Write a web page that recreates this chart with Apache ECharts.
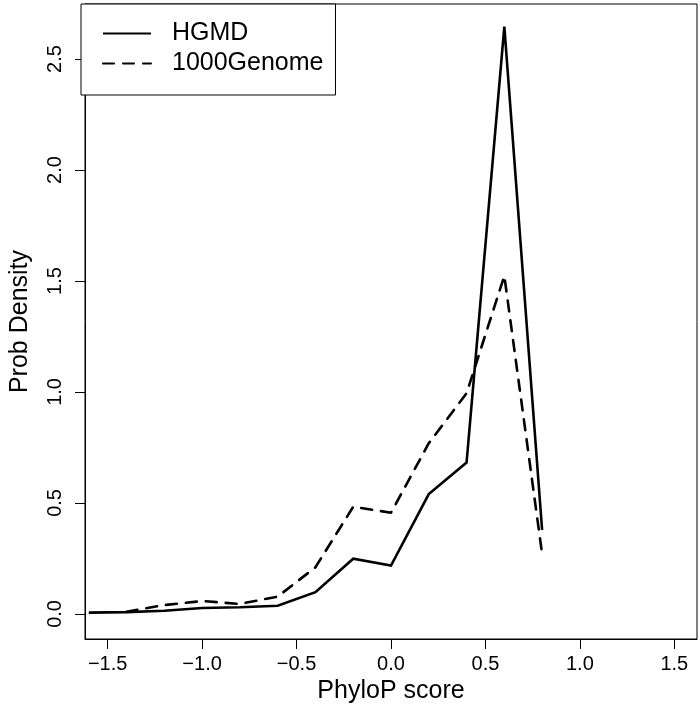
<!DOCTYPE html>
<html>
<head>
<meta charset="utf-8">
<script src="https://cdn.jsdelivr.net/npm/echarts@6/dist/echarts.min.js"></script>
<style>
html,body{margin:0;padding:0;background:#fff;}
#chart{width:700px;height:713px;}
</style>
</head>
<body>
<div id="chart"></div>
<script>
// Data
var scoreHGMD = [-1.6, -1.4, -1.2, -1.0, -0.8, -0.6, -0.4, -0.2, 0.0, 0.2, 0.4, 0.6, 0.8];
var densityHGMD = [0.006, 0.008, 0.014, 0.027, 0.03, 0.037, 0.098, 0.249, 0.218, 0.54, 0.682, 2.646, 0.378];
var scoreGenome = [-1.4, -1.2, -1.0, -0.8, -0.6, -0.4, -0.2, 0.0, 0.2, 0.4, 0.6, 0.8];
var densityGenome = [0.01, 0.04, 0.058, 0.045, 0.078, 0.21, 0.483, 0.456, 0.769, 0.994, 1.523, 0.27];
var xTicks = [-1.5, -1.0, -0.5, 0.0, 0.5, 1.0, 1.5];
var yTicks = [0.0, 0.5, 1.0, 1.5, 2.0, 2.5];
var seriesNames = ['HGMD', '1000Genome'];

function pairs(xs, ys) {
  return xs.map(function (x, i) { return [x, ys[i]]; });
}
function fmt(v) {
  return (v < 0 ? '\u2212' : '') + Math.abs(v).toFixed(1);
}

var FONT = 'Liberation Sans, Arial, Helvetica, sans-serif';
var chart = echarts.init(document.getElementById('chart'), null, {renderer: 'canvas'});
chart.setOption({
  animation: false,
  backgroundColor: '#ffffff',
  grid: {
    left: 81, right: 3, top: 4, bottom: 74,
    show: true, borderColor: '#000', borderWidth: 1, backgroundColor: 'transparent'
  },
  legend: {
    orient: 'vertical',
    left: 81, top: 4,
    padding: [17, 12, 19, 21],
    itemWidth: 48, itemHeight: 25, itemGap: 5,
    borderColor: '#000', borderWidth: 1,
    backgroundColor: '#fff',
    itemStyle: {opacity: 0},
    textStyle: {fontFamily: FONT, fontSize: 25, color: '#000', padding: [0, 0, 0, 16]},
    data: seriesNames.map(function (n) { return {name: n}; })
  },
  xAxis: {
    type: 'value',
    min: -1.62, max: 1.62,
    name: 'PhyloP score',
    nameLocation: 'middle',
    nameGap: 36,
    nameTextStyle: {fontFamily: FONT, fontSize: 25, color: '#000'},
    axisLine: {show: true, onZero: false, lineStyle: {color: '#000', width: 1}},
    splitLine: {show: false},
    axisTick: {show: true, inside: false, length: 10, lineStyle: {color: '#000', width: 1}, customValues: xTicks},
    axisLabel: {fontFamily: FONT, fontSize: 20, color: '#000', margin: 15, customValues: xTicks, formatter: fmt}
  },
  yAxis: {
    type: 'value',
    min: -0.113, max: 2.748,
    name: 'Prob Density',
    nameLocation: 'middle',
    nameRotate: 90,
    nameGap: 52,
    nameTextStyle: {fontFamily: FONT, fontSize: 25, color: '#000'},
    axisLine: {show: true, onZero: false, lineStyle: {color: '#000', width: 1}},
    splitLine: {show: false},
    axisTick: {show: true, inside: false, length: 10, lineStyle: {color: '#000', width: 1}, customValues: yTicks},
    axisLabel: {fontFamily: FONT, fontSize: 20, color: '#000', margin: 20, rotate: 90, customValues: yTicks, formatter: fmt}
  },
  series: [
    {
      name: seriesNames[0], type: 'line',
      data: pairs(scoreHGMD, densityHGMD),
      symbol: 'none', clip: true,
      lineStyle: {color: '#000', width: 2.6, type: 'solid', join: 'miter'},
      itemStyle: {color: '#000'}
    },
    {
      name: seriesNames[1], type: 'line',
      data: pairs(scoreGenome, densityGenome),
      symbol: 'none', clip: true,
      lineStyle: {color: '#000', width: 2.6, type: [11, 9], cap: 'round', join: 'round'},
      itemStyle: {color: '#000'}
    }
  ]
});
</script>
</body>
</html>
